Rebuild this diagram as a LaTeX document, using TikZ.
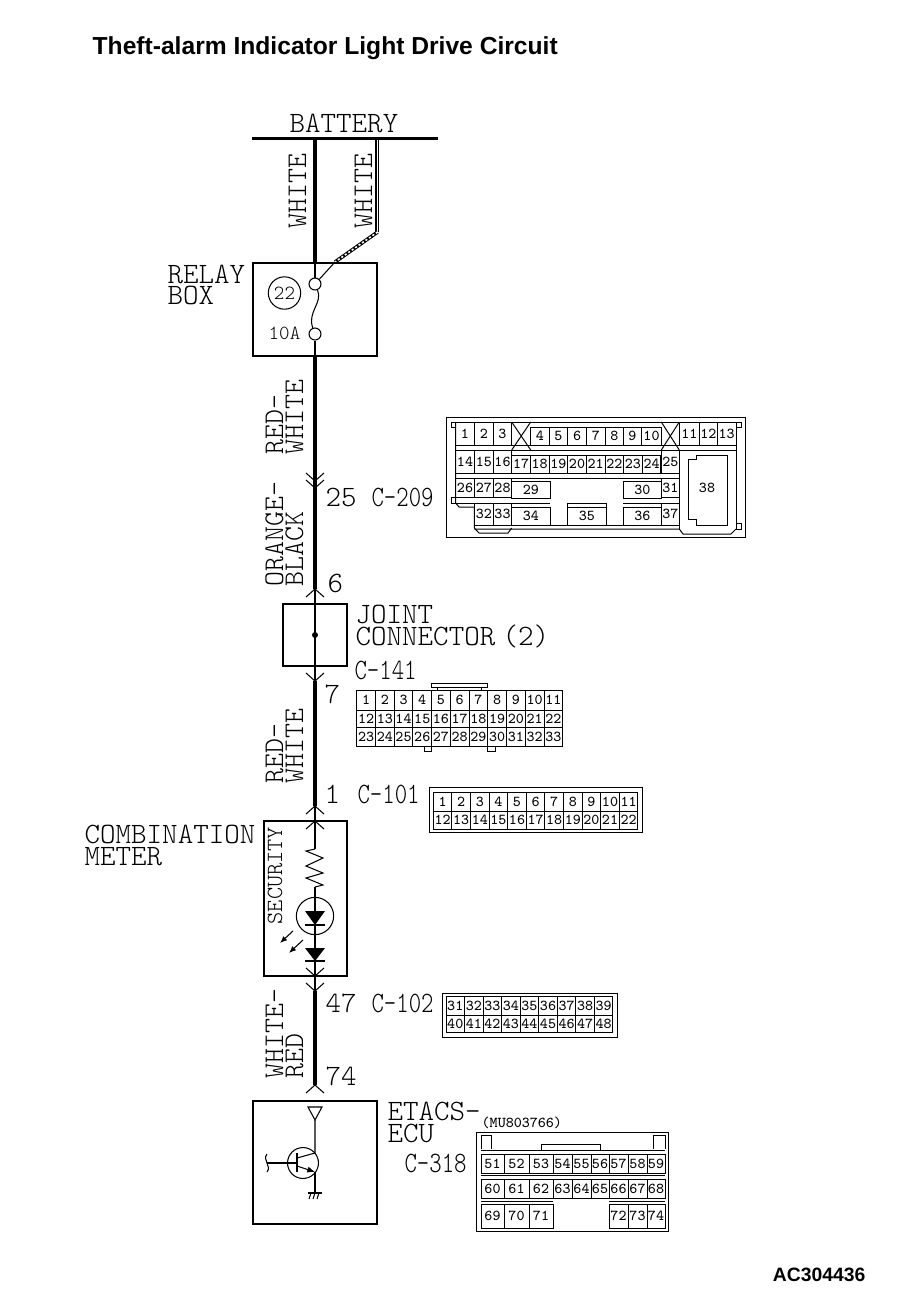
\documentclass[tikz,border=0pt]{standalone}
\usepackage{fontspec}
\setmainfont{Liberation Sans}
\setmonofont{Latin Modern Mono Light}
\newfontfamily\pinfont{Latin Modern Mono}
\usetikzlibrary{arrows.meta}

% one unit is one pixel of the sheet, y runs downwards
\tikzset{
    wire/.style={line width=1.25pt},
    thinwire/.style={line width=0.3pt},
    boxline/.style={line width=0.3pt},
    pinline/.style={line width=0.28pt},
    pintext/.style={inner sep=0pt, font=\fontsize{4.3pt}{5pt}\pinfont},
    cadtext/.style={inner sep=0pt, anchor=base west, font=\fontsize{8.4pt}{9pt}\ttfamily},
    wirelabel/.style={cadtext, rotate=90, font=\fontsize{8.1pt}{9pt}\ttfamily},
    pinlabel/.style={cadtext, xscale=0.8},
    fusepin/.style={draw, circle, line width=0.3pt, minimum size=3.4pt, inner sep=0pt}
}

\newcommand{\pincell}[6]{
    \draw[pinline] (#2,#3) rectangle (#4,#5);
    \node[pintext] (#1-#6) at ({(#2+#4)/2},{(#3+#5)/2}) {#6};
}
\newcommand{\pinrow}[7]{
    \foreach \n [count=\i from 0] in {#6,...,#7} {
        \pgfmathsetmacro{\xa}{#2+#3*\i}
        \pgfmathsetmacro{\xb}{\xa+#3}
        \pincell{#1}{\xa}{#4}{\xb}{#5}{\n}
    }
}
\newcommand{\chevup}[2]{\draw[thinwire] (#1-9,#2+8) -- (#1,#2) -- (#1+9,#2+8);}
\newcommand{\chevdown}[2]{\draw[thinwire] (#1-9,#2-8) -- (#1,#2) -- (#1+9,#2-8);}

\begin{document}
\begin{tikzpicture}[x=0.01cm, y=-0.01cm]
    \useasboundingbox (0,0) rectangle (896,1314);

    \node[inner sep=0pt, anchor=base west, font=\fontsize{7pt}{8pt}\bfseries] (title) at (92,54) {Theft-alarm Indicator Light Drive Circuit};
    \node[inner sep=0pt, anchor=base east, font=\fontsize{5.5pt}{7pt}\bfseries] (sheetcode) at (866,1281) {AC304436};

    % battery rail and the two feeds
    \coordinate (railleft) at (252,138);
    \coordinate (railright) at (438,138);
    \coordinate (feedA) at (315,138);
    \coordinate (relaytop) at (315,263);
    \coordinate (feedB) at (376,138);
    \coordinate (feedBa) at (378.6,138);
    \coordinate (bendB) at (376,232);
    \coordinate (bendBa) at (378.6,232);
    \coordinate (hatchend) at (335,262);
    \draw[line width=0.85pt] (railleft) -- (railright);
    \draw[wire] (feedA) -- (relaytop);
    \draw[line width=0.7pt] (feedB) -- (bendB);
    \draw[thinwire] (feedBa) -- (bendBa);
    \draw[line width=1pt] (bendBa) ++(-1,0) -- (hatchend);
    \draw[white, line width=0.45pt, dash pattern=on 0.6pt off 0.6pt] (bendBa) ++(-1,0) -- (hatchend);
    \node[cadtext] (battery) at (289,132) {BATTERY};
    \node[wirelabel] (whiteA) at (306,229) {WHITE};
    \node[wirelabel] (whiteB) at (372,229) {WHITE};

    % relay box
    \draw[boxline] (253,263) rectangle (377,356);
    \node[fusepin] (fuseup) at (315,284) {};
    \node[fusepin] (fusedown) at (315,334) {};
    \draw[thinwire] (relaytop) -- (fuseup);
    \draw[thinwire] (hatchend) -- (fuseup);
    \draw[thinwire] (fuseup) .. controls (323,303) and (307,312) .. (fusedown);
    \node[draw, circle, line width=0.3pt, inner sep=0pt, minimum size=9.2pt, font=\fontsize{5.7pt}{6pt}\ttfamily] (fuseno) at (284.5,293) {22};
    \node[inner sep=0pt, anchor=base west, font=\fontsize{5.7pt}{6pt}\ttfamily] (fuseamp) at (268,339) {10A};
    \node[cadtext] (relayA) at (167,283) {RELAY};
    \node[cadtext] (relayB) at (167,304) {BOX};
    \coordinate (relaybot) at (315,356);
    \coordinate (plug25) at (315,480);
    \coordinate (plug6) at (315,589);
    \draw[thinwire] (fusedown) -- (relaybot);
    \draw[wire] (relaybot) -- (plug6);
    \chevdown{315}{481}
    \chevdown{315}{488}
    \node[wirelabel] (redA) at (283,455) {RED-};
    \node[wirelabel] (whiteC) at (303,455) {WHITE};
    \node[wirelabel] (orange) at (283,587) {ORANGE-};
    \node[wirelabel] (black) at (303,587) {BLACK};
    \node[cadtext] (pin25) at (325,506) {25};
    \node[pinlabel] (c209label) at (371,506) {C-209};
    \node[cadtext] (pin6) at (327,592) {6};

    % joint connector
    \chevup{315}{589}
    \draw[boxline] (283,604) rectangle (347,666);
    \coordinate (jointout) at (315,681);
    \draw[thinwire] (plug6) -- (jointout);
    \fill (315,635) circle (3);
    \chevdown{315}{681}
    \node[cadtext] (jointA) at (355,623) {JOINT};
    \node[cadtext] (jointB) at (355,645) {{\spaceskip=.25em CONNECTOR (2)}};
    \node[pinlabel] (c141label) at (354,679) {C-141};
    \node[cadtext] (pin7) at (324,703) {7};
    \coordinate (meterin) at (315,806);
    \draw[wire] (jointout) -- (meterin);
    \node[wirelabel] (redB) at (283,784) {RED-};
    \node[wirelabel] (whiteD) at (303,784) {WHITE};
    \node[cadtext] (pin1) at (324,803) {1};
    \node[pinlabel] (c101label) at (357,803) {C-101};

    % combination meter
    \chevup{315}{806}
    \chevup{315}{821}
    \draw[boxline] (264,821) rectangle (347,976);
    \coordinate (rtop) at (315,849);
    \coordinate (rbot) at (315,887);
    \draw[thinwire] (meterin) -- (rtop);
    \draw[thinwire] (rtop) -- (306,851) -- (323,858) -- (306,866) -- (323,873) -- (306,878) -- (323,885) -- (rbot);
    \node[draw, circle, line width=0.3pt, inner sep=0pt, minimum size=10.6pt] (ledring) at (315,916) {};
    \coordinate (meterout) at (315,991);
    \draw[thinwire] (rbot) -- (meterout);
    \fill (305,911) -- (325,911) -- (315,925) -- cycle;
    \draw[thinwire] (305,925) -- (325,925);
    \fill (305,948) -- (325,948) -- (315,961) -- cycle;
    \draw[thinwire] (305,961) -- (325,961);
    \draw[thinwire, -{Latex[length=2pt,width=1.6pt]}] (293,931) -- (280,943);
    \draw[thinwire, -{Latex[length=2pt,width=1.6pt]}] (303,940) -- (289,953);
    \node[wirelabel, font=\fontsize{6.6pt}{7pt}\ttfamily] (security) at (282,925) {SECURITY};
    \chevdown{315}{976}
    \chevdown{315}{991}
    \node[cadtext] (meterA) at (84,843) {COMBINATION};
    \node[cadtext] (meterB) at (84,865) {METER};

    % etacs unit
    \coordinate (ecuin) at (315,1085);
    \draw[wire] (meterout) -- (ecuin);
    \chevup{315}{1085}
    \node[wirelabel] (whiteE) at (283,1079) {WHITE-};
    \node[wirelabel] (redC) at (303,1079) {RED};
    \node[cadtext] (pin47) at (325,1012) {47};
    \node[pinlabel] (c102label) at (371,1012) {C-102};
    \node[cadtext] (pin74) at (325,1085) {74};
    \draw[boxline] (253,1101) rectangle (377,1224);
    \draw[thinwire] (308,1107) -- (322,1107) -- (315,1120) -- cycle;
    \node[draw, circle, line width=0.3pt, inner sep=0pt, minimum size=8.8pt] (transistor) at (303,1163) {};
    \draw[thinwire] (315,1120) -- (315,1153) -- (297,1158);
    \draw[thinwire] (297,1153) -- (297,1172);
    \draw[thinwire] (267,1163) -- (297,1163);
    \draw[thinwire] (267,1154) .. controls (262,1160) and (272,1166) .. (267,1172);
    \draw[thinwire, -{Latex[length=2.2pt,width=1.8pt]}] (297,1166) -- (315,1172);
    \draw[thinwire] (315,1172) -- (315,1193);
    \draw[thinwire] (308,1193) -- (322,1193);
    \foreach \hx in {311,315,319} {\draw[thinwire] (\hx,1193) -- (\hx-2,1199);}
    \node[cadtext] (ecuA) at (387,1120) {ETACS-};
    \node[cadtext] (ecuB) at (387,1142) {ECU};
    \node[pinlabel] (c318label) at (404,1172) {C-318};

    % connector C-209
    \draw[pinline] (446.5,417) rectangle (745,537.5);
    \draw[pinline] (451,427) -- (451,422) -- (741,422) -- (741,427) -- (736,427);
    \draw[pinline] (451,427) -- (455.7,427);
    \draw[pinline] (455.7,422) -- (455.7,503) -- (459,507) -- (474.3,507);
    \draw[pinline] (451,503) -- (451,497) -- (455.7,497);
    \draw[pinline] (451,503) -- (455.7,503);
    \draw[pinline] (474.3,507) -- (474.3,528) -- (479,533) -- (508,533) -- (511.7,528);
    \draw[pinline] (474.3,529) -- (679.3,529) -- (683,534) -- (731,534) -- (736,529);
    \draw[pinline] (736,422) -- (736,529);
    \draw[pinline] (736,523) -- (741,523) -- (741,529) -- (736,529);
    \foreach \xa/\xb/\n in {455.7/474.3/1, 474.3/493.3/2, 493.3/511.7/3, 679.3/699.3/11, 699.3/717.3/12, 717.3/736/13} {
        \pincell{cA}{\xa}{422}{\xb}{445}{\n}
    }
    \foreach \xa/\xb/\n in {530.7/549.3/4, 549.3/567.7/5, 567.7/586.7/6, 586.7/605.3/7, 605.3/623.3/8, 623.3/641.7/9, 641.7/661.3/10} {
        \pincell{cA}{\xa}{427}{\xb}{445}{\n}
    }
    \draw[pinline] (511.7,422) -- (530.7,450) (530.7,422) -- (511.7,450);
    \draw[pinline] (661.3,422) -- (679.3,450) (679.3,422) -- (661.3,450);
    \draw[pinline] (455.7,445) -- (736,445) (455.7,450) -- (736,450);
    \foreach \xa/\xb/\n in {455.7/474.3/14, 474.3/493.3/15, 493.3/511.7/16, 661.3/679.3/25} {
        \pincell{cA}{\xa}{450}{\xb}{473}{\n}
    }
    \pinrow{cA}{511.7}{18.66}{455}{473}{17}{24}
    \draw[pinline] (455.7,478) -- (679.3,478);
    \foreach \xa/\xb/\n in {455.7/474.3/26, 474.3/493.3/27, 493.3/511.7/28, 661.3/679.3/31} {
        \pincell{cA}{\xa}{478}{\xb}{497.5}{\n}
    }
    \foreach \xa/\xb/\n in {511.7/550/29, 623.3/661.3/30} {
        \pincell{cA}{\xa}{481}{\xb}{498}{\n}
    }
    \draw[pinline] (455.7,503) -- (550,503) (623.3,503) -- (679.3,503);
    \foreach \xa/\xb/\n in {474.3/493.3/32, 493.3/511.7/33, 661.3/679.3/37} {
        \pincell{cA}{\xa}{503}{\xb}{525}{\n}
    }
    \foreach \xa/\xb/\n in {511.7/550/34, 567.7/606/35, 623.3/661.3/36} {
        \pincell{cA}{\xa}{507}{\xb}{525}{\n}
    }
    \draw[pinline] (567.7,507) -- (567.7,503) -- (606,503) -- (606,507);
    \draw[pinline] (474.3,525) -- (679.3,525);
    \draw[pinline] (679.3,450) -- (679.3,529);
    \draw[pinline] (696,455) -- (727,455) -- (727,525) -- (696,525) -- (696,519) -- (688,519) -- (688,459) -- (696,459) -- cycle;
    \node[pintext] (cA-38) at (707,488) {38};

    % connector C-141
    \pinrow{cB}{356.7}{18.73}{690}{710}{1}{11}
    \pinrow{cB}{356.7}{18.73}{710}{727.3}{12}{22}
    \pinrow{cB}{356.7}{18.73}{727.3}{746}{23}{33}
    \draw[pinline] (437.3,690) -- (437.3,687) -- (431.7,687) -- (431.7,683) -- (487.7,683) -- (487.7,687) -- (481.7,687) -- (481.7,690);
    \draw[pinline] (431.7,687) -- (487.7,687);
    \draw[pinline] (424,746) -- (424,751) -- (431.7,751) -- (431.7,746);
    \draw[pinline] (487.7,746) -- (487.7,751) -- (495.7,751) -- (495.7,746);

    % connector C-101
    \draw[pinline] (429.3,787) rectangle (642.7,832);
    \pinrow{cC}{433.3}{18.6}{792}{811}{1}{11}
    \pinrow{cC}{433.3}{18.6}{811}{829}{12}{22}

    % connector C-102
    \draw[pinline] (442,993) rectangle (617.7,1037);
    \pinrow{cD}{446}{18.55}{996}{1015}{31}{39}
    \pinrow{cD}{446}{18.55}{1015}{1032}{40}{48}

    % connector C-318
    \node[pintext, anchor=base west] (partno) at (481,1127) {(MU803766)};
    \draw[pinline] (476.7,1132) rectangle (668,1231);
    \draw[pinline] (481,1149) -- (481,1135) -- (491.7,1135) -- (491.7,1149);
    \draw[pinline] (653,1149) -- (653,1135) -- (665,1135) -- (665,1149);
    \draw[pinline] (541,1150) -- (541,1144) -- (600,1144) -- (600,1150);
    \draw[pinline] (481,1150) -- (665,1150);
    \draw[pinline] (481,1175.5) -- (665,1175.5);
    \draw[pinline] (481,1201) -- (553,1201) (609,1201) -- (665,1201);
    \foreach \xa/\xb/\na/\nb in {481/504/51/60, 504/529/52/61, 529/553/53/62, 553/572/54/63, 572/591/55/64, 591/609/56/65, 609/628/57/66, 628/647/58/67, 647/665/59/68} {
        \pincell{cE}{\xa}{1154}{\xb}{1173}{\na}
        \pincell{cE}{\xa}{1179}{\xb}{1198}{\nb}
    }
    \foreach \xa/\xb/\n in {481/504/69, 504/529/70, 529/553/71, 609/628/72, 628/647/73, 647/665/74} {
        \pincell{cE}{\xa}{1204}{\xb}{1228}{\n}
    }
\end{tikzpicture}
\end{document}
